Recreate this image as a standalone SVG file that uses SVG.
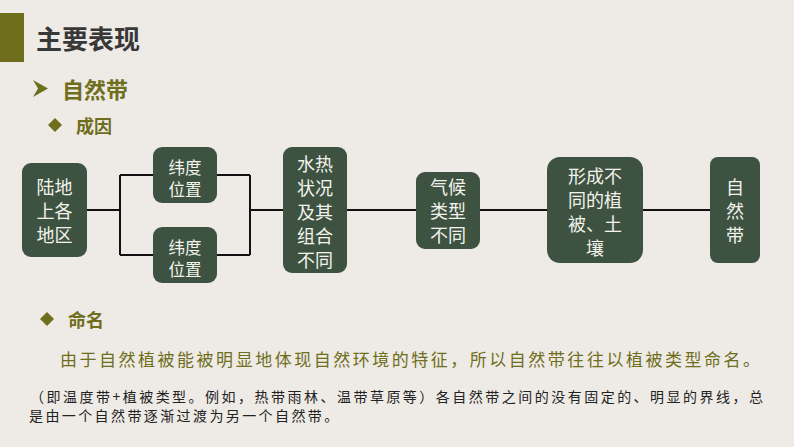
<svg xmlns="http://www.w3.org/2000/svg" width="794" height="447" viewBox="0 0 794 447">
<style>
.bg{fill:#EEEAE5}
.node{fill:#3D5241}
.nt{font-family:"Noto Sans CJK SC","Noto Sans CJK JP",sans-serif;font-size:18px;fill:#F4F2EC;text-anchor:middle}
.sm{font-size:16.5px}
.conn{stroke:#111;stroke-width:2;fill:none}
.olive{fill:#6E6E1C}
.h{font-family:"Noto Sans CJK SC",sans-serif;font-weight:bold}
.p{font-family:"Noto Sans CJK SC",sans-serif}
</style>
<rect class="bg" x="0" y="0" width="794" height="447"/>
<rect class="olive" x="0" y="13" width="24" height="49"/>
<text class="h" x="36" y="49" font-size="26" fill="#383838">主要表现</text>
<path d="M33,80 L48,88.5 L33,97 L38,88.5 Z" fill="#6E6E1C"/>
<text class="h olive" x="62" y="98" font-size="22">自然带</text>
<path class="olive" d="M55,118 L62,125 L55,132 L48,125 Z"/>
<text class="h olive" x="76" y="133" font-size="18">成因</text>

<g id="connectors">
<path class="conn" d="M87,210 H120 M120,175 V255 M120,175 H153 M120,255 H153 M217,175 H250 M217,255 H250 M250,175 V255 M250,210 H283 M347,210 H416 M480,210 H547 M643,210 H710"/>
</g>

<g id="n1">
<rect class="node" x="22" y="163" width="65" height="94" rx="9"/>
<text class="nt" x="54.5" y="194">陆地</text>
<text class="nt" x="54.5" y="218">上各</text>
<text class="nt" x="54.5" y="242">地区</text>
</g>
<g id="n2">
<rect class="node" x="153" y="147" width="64" height="56" rx="9"/>
<text class="nt sm" x="185" y="174">纬度</text>
<text class="nt sm" x="185" y="196">位置</text>
</g>
<g id="n3">
<rect class="node" x="153" y="227" width="64" height="56" rx="9"/>
<text class="nt sm" x="185" y="254">纬度</text>
<text class="nt sm" x="185" y="276">位置</text>
</g>
<g id="n4">
<rect class="node" x="283" y="147" width="64" height="126" rx="9"/>
<text class="nt" x="315" y="171">水热</text>
<text class="nt" x="315" y="195">状况</text>
<text class="nt" x="315" y="219">及其</text>
<text class="nt" x="315" y="243">组合</text>
<text class="nt" x="315" y="267">不同</text>
</g>
<g id="n5">
<rect class="node" x="416" y="172" width="64" height="77" rx="9"/>
<text class="nt" x="448" y="194">气候</text>
<text class="nt" x="448" y="218">类型</text>
<text class="nt" x="448" y="242">不同</text>
</g>
<g id="n6">
<rect class="node" x="547" y="157" width="96" height="106" rx="13"/>
<text class="nt" x="595" y="183">形成不</text>
<text class="nt" x="595" y="207">同的植</text>
<text class="nt" x="595" y="231">被、土</text>
<text class="nt" x="595" y="255">壤</text>
</g>
<g id="n7">
<rect class="node" x="710" y="157" width="50" height="106" rx="8"/>
<text class="nt" x="735" y="194">自</text>
<text class="nt" x="735" y="218">然</text>
<text class="nt" x="735" y="242">带</text>
</g>

<path class="olive" d="M47,312 L54,319 L47,326 L40,319 Z"/>
<text class="h olive" x="68" y="327" font-size="18">命名</text>
<text class="p olive" x="60" y="366" font-size="17" textLength="700" lengthAdjust="spacing">由于自然植被能被明显地体现自然环境的特征，所以自然带往往以植被类型命名。</text>
<text class="p" x="30" y="402" font-size="14" fill="#222" textLength="733" lengthAdjust="spacing">（即温度带+植被类型。例如，热带雨林、温带草原等）各自然带之间的没有固定的、明显的界线，总</text>
<text class="p" x="29" y="421" font-size="14" fill="#222" letter-spacing="2.4">是由一个自然带逐渐过渡为另一个自然带。</text>
</svg>
